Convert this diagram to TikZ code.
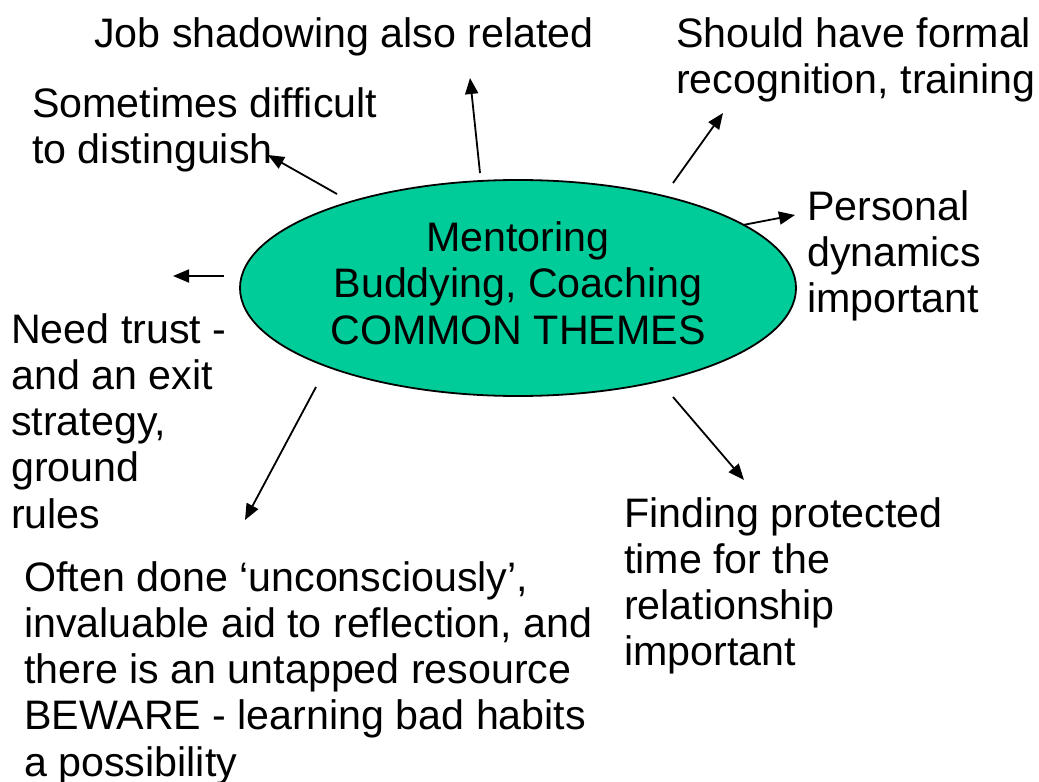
\documentclass[tikz,border=0pt]{standalone}
\usepackage{fontspec}
\setmainfont{Liberation Sans}
\usetikzlibrary{shapes.geometric,arrows.meta}
\definecolor{themegreen}{RGB}{0,204,153}
\tikzset{
  txt/.style={anchor=north west, inner sep=0pt, align=left,
    font=\fontsize{41.2bp}{46.3bp}\selectfont},
  arr/.style={line width=1.8bp, -{Triangle[length=16bp,width=13bp]}},
  hub/.style={ellipse, draw=black, line width=1.8bp, fill=themegreen,
    inner sep=0pt, minimum width=556bp, minimum height=216bp}
}
\begin{document}
\begin{tikzpicture}[x=1bp,y=-1bp]
\useasboundingbox (0,0) rectangle (1039,782);
\node[hub] (E) at (518,288) {};
\node[inner sep=0pt, align=center, font=\fontsize{41.2bp}{46.3bp}\selectfont] (T) at (518,283)
  {Mentoring\\Buddying, Coaching\\COMMON THEMES};

\node[txt] (job) at (94,17) {Job shadowing also related};
\node[txt] (formal) at (676,17) {Should have formal\\recognition, training};
\node[txt] (dist) at (32,87) {Sometimes difficult\\to distinguish};
\node[txt] (pers) at (807,190) {Personal\\dynamics\\important};
\node[txt] (trust) at (11,313) {Need trust -\\and an exit\\strategy,\\ground\\rules};
\node[txt] (time) at (624,497) {Finding protected\\time for the\\relationship\\important};
\node[txt] (often) at (24,561) {Often done ‘unconsciously’,\\invaluable aid to reflection, and\\there is an untapped resource\\BEWARE - learning bad habits\\a possibility};

\coordinate (s1) at (337,194); \coordinate (t1) at (268,155);
\coordinate (s2) at (480,173); \coordinate (t2) at (470,78);
\coordinate (s3) at (673,183); \coordinate (t3) at (723,113);
\coordinate (s4) at (743,225); \coordinate (t4) at (795,215);
\coordinate (s5) at (224,276); \coordinate (t5) at (173,276);
\coordinate (s6) at (316,387); \coordinate (t6) at (245,520);
\coordinate (s7) at (673,397); \coordinate (t7) at (744,480);

\draw[arr] (s1) -- (t1);
\draw[arr] (s2) -- (t2);
\draw[arr] (s3) -- (t3);
\draw[arr] (s4) -- (t4);
\draw[arr] (s5) -- (t5);
\draw[arr] (s6) -- (t6);
\draw[arr] (s7) -- (t7);
\end{tikzpicture}
\end{document}
